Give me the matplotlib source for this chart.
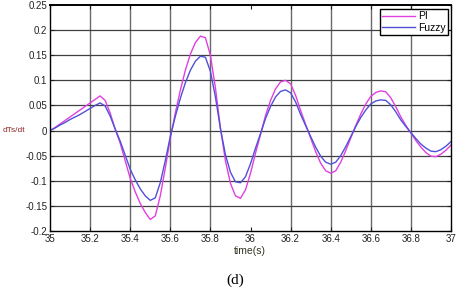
import numpy as np
import matplotlib
matplotlib.use("Agg")
import matplotlib.pyplot as plt

# time axis, 0.025 s steps
time = np.linspace(35.0, 37.0, 81)

pi_vals = [
    0.000, 0.006, 0.013, 0.020, 0.027, 0.034, 0.041, 0.048, 0.055, 0.062,
    0.069, 0.060, 0.035, 0.003, -0.025, -0.060, -0.095, -0.122, -0.145, -0.163,
    -0.177, -0.170, -0.130, -0.075, -0.015, 0.035, 0.080, 0.120, 0.152, 0.175,
    0.188, 0.185, 0.150, 0.085, 0.005, -0.060, -0.105, -0.130, -0.135, -0.118,
    -0.085, -0.045, -0.008, 0.030, 0.060, 0.083, 0.097, 0.100, 0.093, 0.070,
    0.040, 0.012, -0.015, -0.042, -0.065, -0.080, -0.085, -0.080, -0.063, -0.040,
    -0.015, 0.010, 0.033, 0.053, 0.068, 0.076, 0.079, 0.077, 0.065, 0.047,
    0.027, 0.010, -0.005, -0.020, -0.033, -0.044, -0.051, -0.052, -0.047, -0.039,
    -0.029,
]

fuzzy_vals = [
    0.000, 0.005, 0.011, 0.016, 0.022, 0.027, 0.032, 0.038, 0.044, 0.050,
    0.055, 0.049, 0.029, 0.003, -0.021, -0.049, -0.077, -0.098, -0.116, -0.130,
    -0.139, -0.134, -0.104, -0.060, -0.012, 0.028, 0.064, 0.095, 0.120, 0.138,
    0.148, 0.146, 0.118, 0.067, 0.004, -0.048, -0.083, -0.102, -0.104, -0.092,
    -0.066, -0.035, -0.006, 0.024, 0.048, 0.067, 0.078, 0.081, 0.075, 0.057,
    0.032, 0.010, -0.012, -0.033, -0.051, -0.063, -0.067, -0.063, -0.050, -0.032,
    -0.012, 0.008, 0.026, 0.041, 0.053, 0.059, 0.061, 0.060, 0.051, 0.037,
    0.021, 0.008, -0.004, -0.016, -0.027, -0.035, -0.041, -0.042, -0.038, -0.031,
    -0.022,
]

xticks = [35, 35.2, 35.4, 35.6, 35.8, 36, 36.2, 36.4, 36.6, 36.8, 37]
xtick_labels = ["35", "35.2", "35.4", "35.6", "35.8", "36", "36.2", "36.4", "36.6", "36.8", "37"]
yticks = [-0.2, -0.15, -0.1, -0.05, 0, 0.05, 0.1, 0.15, 0.2, 0.25]
ytick_labels = ["-0.2", "-0.15", "-0.1", "-0.05", "0", "0.05", "0.1", "0.15", "0.2", "0.25"]

plt.rcParams['font.family'] = ['Liberation Sans', 'DejaVu Sans']

fig = plt.figure(figsize=(4.69, 2.92), dpi=100)
ax = fig.add_axes([50 / 469, 1 - 231 / 292, 401 / 469, 226 / 292])

# grid (the 36 s line is missing in the original)
for xv in xticks[1:-1]:
    if xv != 36:
        ax.axvline(xv, color='#6a6a6a', lw=1.0, zorder=0)
for yv in yticks[1:-1]:
    ax.axhline(yv, color='#404040', lw=0.9, zorder=0)

ax.plot(time, pi_vals, color='#e040e0', lw=1.0, label='PI')
ax.plot(time, fuzzy_vals, color='#5050d8', lw=1.0, label='Fuzzy')

ax.set_xlim(35, 37)
ax.set_ylim(-0.2, 0.25)
ax.set_xticks(xticks)
ax.set_xticklabels(xtick_labels)
ax.set_yticks(yticks)
ax.set_yticklabels(ytick_labels)
ax.tick_params(direction='in', length=3, labelsize=7, top=True, right=True,
               pad=2, colors='#222222')
for s in ax.spines.values():
    s.set_color('black')
    s.set_linewidth(1.0)
ax.spines['top'].set_linewidth(1.4)

leg = ax.legend(loc='upper right', bbox_to_anchor=(0.993, 0.982), fontsize=7.5,
                handlelength=3.2, handletextpad=0.3, borderpad=0.2,
                labelspacing=0.15, borderaxespad=0, fancybox=False, framealpha=1)
leg.get_frame().set_edgecolor('black')
leg.get_frame().set_linewidth(1.0)
for t in leg.get_texts():
    t.set_ha('left')
leg._legend_box.align = 'left'

fig.text(0.005, 1 - 131 / 292, "dTs/dt", fontsize=6, color='#902828', va='center')
fig.text(250 / 469, 1 - 251 / 292, "time(s)", fontsize=7.5, color='#333322',
         ha='center', va='center')
fig.text(235 / 469, 1 - 280 / 292, "(d)", fontsize=11, ha='center', va='center',
         family=['Liberation Serif', 'DejaVu Serif'])

fig.savefig("out.png", dpi=100)
